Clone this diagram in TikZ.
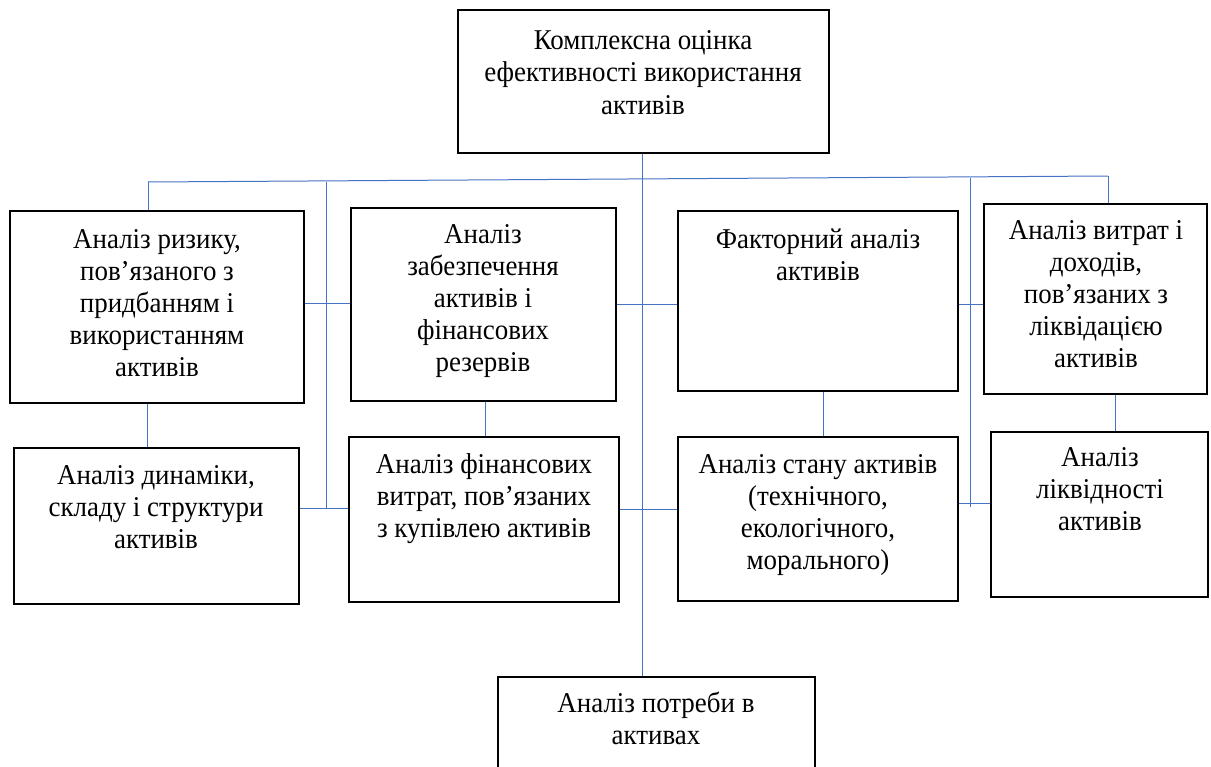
\documentclass[tikz,border=0pt]{standalone}
\usepackage{fontspec}
\setmainfont{Liberation Serif}[FakeStretch=0.94]
\usetikzlibrary{fit}
\definecolor{linkblue}{HTML}{4472C4}
\begin{document}
\begin{tikzpicture}[x=0.75pt,y=-0.75pt,
  box/.style={draw=black, line width=0.9pt, inner sep=0pt},
  txt/.style={anchor=base, align=center, inner sep=0pt,
              font=\fontsize{21.5pt}{24pt}\selectfont},
  link/.style={draw=linkblue, line width=0.75pt}]
\useasboundingbox (0,0) rectangle (1211,767);
\fill[white] (0,0) rectangle (1211,767);
\clip (0,0) rectangle (1211,767);

% boxes
\node[box, fit={(458,10) (829,153)}] (top) {};
\node[box, fit={(10,211) (304,403)}] (b1) {};
\node[box, fit={(351,208) (616,401)}] (b2) {};
\node[box, fit={(678,211) (958,391)}] (b3) {};
\node[box, fit={(984,204) (1207,394)}] (b4) {};
\node[box, fit={(14,448) (299,604)}] (b5) {};
\node[box, fit={(349,437) (619,602)}] (b6) {};
\node[box, fit={(678,437) (958,601)}] (b7) {};
\node[box, fit={(991,432) (1208,597)}] (b8) {};
\node[box, fit={(498,677) (815,800)}] (bot) {};

% texts (positioned by the baseline of their last line)
\node[txt] (ttop) at (643,114) {Комплексна оцінка\\ефективності використання\\активів};
\node[txt] (t1) at (157,376) {Аналіз ризику,\\пов’язаного з\\придбанням і\\використанням\\активів};
\node[txt] (t2) at (483,371) {Аналіз\\забезпечення\\активів і\\фінансових\\резервів};
\node[txt] (t3) at (818,280) {Факторний аналіз\\активів};
\node[txt] (t4) at (1096,367) {Аналіз витрат і\\доходів,\\пов’язаних з\\ліквідацією\\активів};
\node[txt] (t5) at (156,548) {Аналіз динаміки,\\складу і структури\\активів};
\node[txt] (t6) at (484,537) {Аналіз фінансових\\витрат, пов’язаних\\з купівлею активів};
\node[txt] (t7) at (818,569) {Аналіз стану активів\\(технічного,\\екологічного,\\морального)};
\node[txt] (t8) at (1100,530) {Аналіз\\ліквідності\\активів};
\node[txt] (tbot) at (656,744) {Аналіз потреби в\\активах};

% bus ends and branch columns
\coordinate (busL) at (148,182);
\coordinate (busR) at (1108,176);
\coordinate (colA) at (326,181.5);
\coordinate (colC) at (642,0);
\coordinate (colD) at (970,178);
\coordinate (endA) at (326,508);
\coordinate (endD) at (970,507);
\coordinate (x1) at (147,0);
\coordinate (x2) at (485,0);
\coordinate (x3) at (823,0);
\coordinate (x4) at (1115,0);
\coordinate (y1) at (0,303);
\coordinate (y2) at (0,304);
\coordinate (y5) at (0,508);
\coordinate (y6) at (0,509);
\coordinate (y7) at (0,503);

% bus
\draw[link] (busL) -- (busR);
\draw[link] (busL) -- (b1.north -| busL);
\draw[link] (busR) -- (b4.north -| busR);
\draw[link] (colA) -- (endA);
\draw[link] (colD) -- (endD);
\draw[link] (top.south -| colC) -- (bot.north -| colC);

% horizontal links
\draw[link] (b1.east |- y1) -- (b2.west |- y1);
\draw[link] (b2.east |- y2) -- (b3.west |- y2);
\draw[link] (b3.east |- y2) -- (b4.west |- y2);
\draw[link] (b5.east |- y5) -- (b6.west |- y5);
\draw[link] (b6.east |- y6) -- (b7.west |- y6);
\draw[link] (b7.east |- y7) -- (b8.west |- y7);

% vertical links
\draw[link] (b1.south -| x1) -- (b5.north -| x1);
\draw[link] (b2.south -| x2) -- (b6.north -| x2);
\draw[link] (b3.south -| x3) -- (b7.north -| x3);
\draw[link] (b4.south -| x4) -- (b8.north -| x4);
\end{tikzpicture}
\end{document}
